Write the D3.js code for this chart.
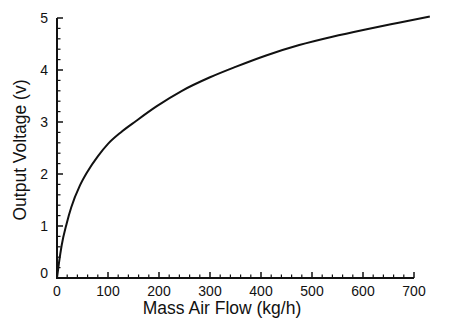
<!DOCTYPE html>
<html>
<head>
<meta charset="utf-8">
<script src="https://cdn.jsdelivr.net/npm/d3@7"></script>
<style>
  html, body { margin: 0; padding: 0; background: #fff; }
  svg { display: block; }
  text { font-family: "Liberation Sans", Arial, Helvetica, sans-serif; fill: #111; }
</style>
</head>
<body>
<script>
// Sensor transfer curve: mass air flow (kg/h) vs output voltage (V)
const flow    = [0, 4, 9, 19, 28, 45, 60, 80, 100, 125, 155, 195, 245, 300, 350, 410, 475, 540, 605, 670, 731];
const voltage = [0, 0.3, 0.62, 1.05, 1.36, 1.78, 2.05, 2.34, 2.58, 2.8, 3.02, 3.3, 3.6, 3.86, 4.06, 4.28, 4.48, 4.64, 4.78, 4.91, 5.03];

const xTicks = [0, 100, 200, 300, 400, 500, 600, 700];
const yTicks = [0, 1, 2, 3, 4, 5];
const xMinor = d3.range(0, 701, 20).filter(v => v % 100 !== 0);
const yMinor = d3.range(1, 25).map(i => i * 0.2).filter(v => Math.abs(v - Math.round(v)) > 1e-6);

const W = 450, H = 330;
const m = { left: 57, top: 18, right: 36, bottom: 52 };

const svg = d3.select("body").append("svg").attr("width", W).attr("height", H);

const x = d3.scaleLinear().domain([0, 700]).range([m.left, W - m.right]);
const y = d3.scaleLinear().domain([0, 5]).range([H - m.bottom, m.top]);

const ink = "#111";

// Inward ticks on the bottom axis
const gx = svg.append("g");
gx.selectAll("line.minor").data(xMinor).join("line")
  .attr("class", "minor")
  .attr("x1", d => x(d)).attr("x2", d => x(d))
  .attr("y1", y(0)).attr("y2", y(0) - 3.5)
  .attr("stroke", ink).attr("stroke-width", 1.2);
gx.selectAll("line.major").data(xTicks).join("line")
  .attr("class", "major")
  .attr("x1", d => x(d)).attr("x2", d => x(d))
  .attr("y1", y(0)).attr("y2", y(0) - 6)
  .attr("stroke", ink).attr("stroke-width", 1.5);
gx.selectAll("text").data(xTicks).join("text")
  .attr("x", d => x(d)).attr("y", y(0) + 18)
  .attr("text-anchor", "middle")
  .attr("font-size", 14)
  .text(d => d);

// Inward ticks on the left axis
const gy = svg.append("g");
gy.selectAll("line.minor").data(yMinor).join("line")
  .attr("class", "minor")
  .attr("x1", x(0)).attr("x2", x(0) + 3.5)
  .attr("y1", d => y(d)).attr("y2", d => y(d))
  .attr("stroke", ink).attr("stroke-width", 1.2);
gy.selectAll("line.major").data(yTicks).join("line")
  .attr("class", "major")
  .attr("x1", x(0)).attr("x2", x(0) + 6)
  .attr("y1", d => y(d)).attr("y2", d => y(d))
  .attr("stroke", ink).attr("stroke-width", 1.5);
gy.selectAll("text").data(yTicks).join("text")
  .attr("x", x(0) - 9)
  .attr("y", d => y(d) + (d === 0 ? 0 : 5))
  .attr("text-anchor", "end")
  .attr("font-size", 14)
  .text(d => d);

// Axis lines
svg.append("line")
  .attr("x1", x(0) - 1).attr("x2", x(700))
  .attr("y1", y(0)).attr("y2", y(0))
  .attr("stroke", ink).attr("stroke-width", 2);
svg.append("line")
  .attr("x1", x(0)).attr("x2", x(0))
  .attr("y1", y(0) + 1).attr("y2", y(5))
  .attr("stroke", ink).attr("stroke-width", 2);

// Curve
const pts = flow.map((f, i) => [f, voltage[i]]);
svg.append("path")
  .datum(pts)
  .attr("fill", "none")
  .attr("stroke", ink)
  .attr("stroke-width", 2)
  .attr("stroke-linejoin", "round")
  .attr("d", d3.line().x(d => x(d[0])).y(d => y(d[1])).curve(d3.curveMonotoneX));

// Axis titles
svg.append("text")
  .attr("x", 222).attr("y", 314)
  .attr("text-anchor", "middle")
  .attr("font-size", 17.5)
  .text("Mass Air Flow (kg/h)");

svg.append("text")
  .attr("transform", `translate(26,150) rotate(-90)`)
  .attr("text-anchor", "middle")
  .attr("font-size", 17.5)
  .text("Output Voltage (v)");
</script>
</body>
</html>
